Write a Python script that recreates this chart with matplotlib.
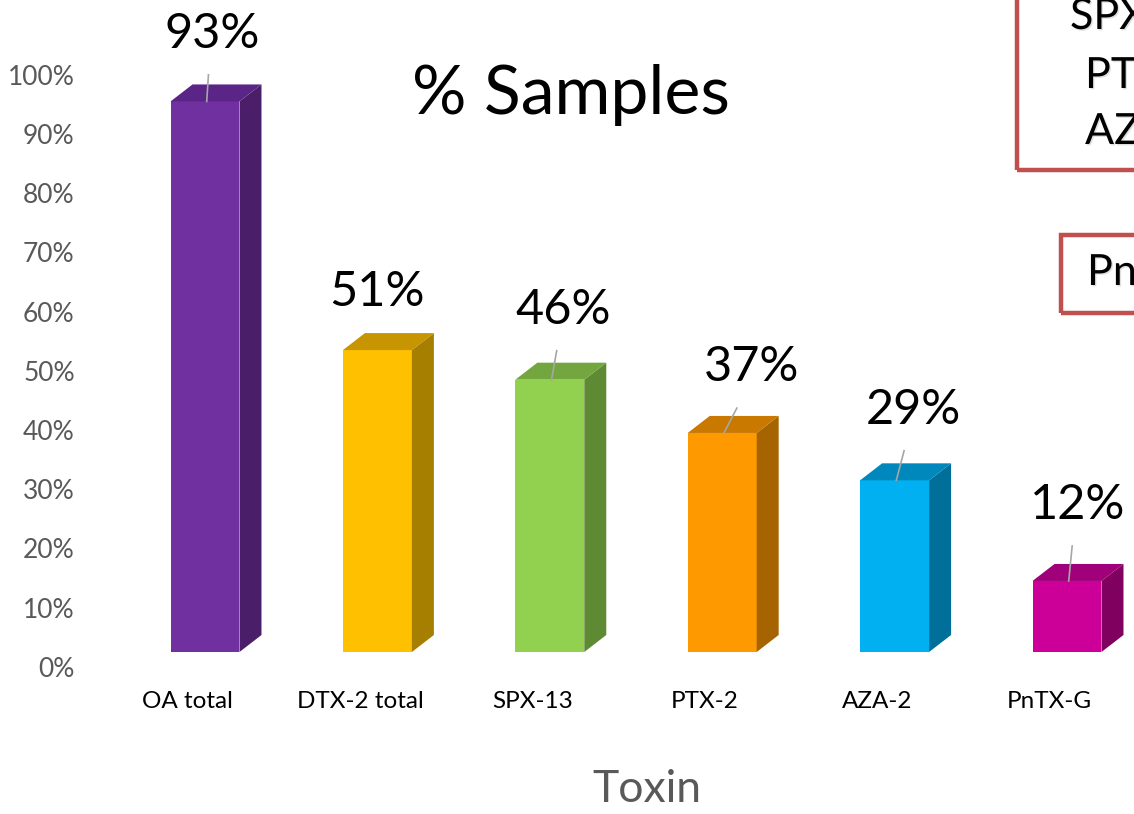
import matplotlib
matplotlib.use("Agg")
import matplotlib.pyplot as plt
import matplotlib.patheffects as pe
from matplotlib.patches import Rectangle, Polygon

plt.rcParams['font.family'] = ['Lato', 'DejaVu Sans']

# data
toxins = ['OA total', 'DTX-2 total', 'SPX-13', 'PTX-2', 'AZA-2', 'PnTX-G']
pct_samples = [93, 51, 46, 37, 29, 12]
y_ticks = [0, 10, 20, 30, 40, 50, 60, 70, 80, 90, 100]
front_colors = ['#7030A0', '#FFC000', '#92D050', '#FF9900', '#00B0F0', '#CC0099']
top_colors = ['#5B2587', '#C79500', '#74A640', '#C97800', '#0088BC', '#A0007A']
side_colors = ['#4A1E69', '#A67F00', '#5E8A34', '#A66400', '#00709A', '#800060']
box_lines = ['SPX-13', 'PTX-2', 'AZA-2']
box2_text = 'PnTX-G'

# where the value labels were placed (offset from bar centre / bar top)
label_dx = [0.04, 0.0, 0.08, 0.17, 0.11, 0.06]
label_dy = [11.4, 9.8, 11.8, 11.1, 11.9, 12.8]
has_leader = [True, False, True, True, True, True]

W, H = 1134, 814
fig = plt.figure(figsize=(W / 100, H / 100), dpi=100)

# pixel layout of the plot area
left_px = 90
x0_px, x_step = 205, 172.4      # first bar centre, spacing
base_px, y_step = 652, 5.92     # bar base, pixels per percent
ax = fig.add_axes([left_px / W, 0, 1 - left_px / W, 1])
ax.set_xlim((left_px - x0_px) / x_step, (W - x0_px) / x_step)
ax.set_ylim((base_px - H) / y_step, base_px / y_step)

bar_w = 0.40
dx, dy = 22 / x_step, 17 / y_step   # depth of the 3D boxes

for i, v in enumerate(pct_samples):
    l, r = i - bar_w / 2, i + bar_w / 2
    ax.add_patch(Rectangle((l, 0), bar_w, v, facecolor=front_colors[i],
                           edgecolor='none', zorder=3))
    ax.add_patch(Polygon([(r, 0), (r + dx, dy), (r + dx, v + dy), (r, v)],
                         closed=True, facecolor=side_colors[i],
                         edgecolor='none', zorder=3))
    ax.add_patch(Polygon([(l, v), (l + dx, v + dy), (r + dx, v + dy), (r, v)],
                         closed=True, facecolor=top_colors[i],
                         edgecolor='none', zorder=3))

    lx, ly = i + label_dx[i], v + label_dy[i]
    ax.text(lx, ly, f'{v}%', ha='center', va='center', fontsize=35,
            color='black', zorder=5)
    if has_leader[i]:
        ax.plot([(lx + i) / 2, i + 0.01], [ly - 6.9, v], color='#A6A6A6',
                lw=1.2, zorder=4)

    ax.text(i - 0.1, (base_px - 702) / y_step, toxins[i], ha='center',
            va='center', fontsize=17.5, color='black')

# y axis labels sit a little below the bar base
ax.set_yticks([t - 2.5 for t in y_ticks])
ax.set_yticklabels([f'{t}%' for t in y_ticks], fontsize=19, color='#595959')
ax.tick_params(axis='y', length=0, pad=11)
ax.set_xticks([])
for s in ax.spines.values():
    s.set_visible(False)

fig.text(571 / W, 1 - 95 / H, '% Samples', ha='center', va='center',
         fontsize=49, color='black')
fig.text(647 / W, 1 - 790 / H, 'Toxin', ha='center', va='center',
         fontsize=32, color='#595959')

# callout boxes on the right
shadow = [pe.withSimplePatchShadow(offset=(1, -1), shadow_rgbFace='#999999', alpha=0.3)]
red = '#C0504D'
fig.add_artist(Rectangle((1017 / W, 1 - 170 / H), 400 / W, 300 / H,
                         transform=fig.transFigure, facecolor='none',
                         edgecolor=red, lw=3.2))
fig.add_artist(Rectangle((1061 / W, 1 - 313 / H), 400 / W, 78 / H,
                         transform=fig.transFigure, facecolor='none',
                         edgecolor=red, lw=3.2))
for txt, (xp, yp) in zip(box_lines, [(1070, 17), (1085, 76), (1085, 132)]):
    fig.text(xp / W, 1 - yp / H, txt, ha='left', va='center', fontsize=31,
             color='black', path_effects=shadow)
fig.text(1087 / W, 1 - 273 / H, box2_text, ha='left', va='center',
         fontsize=31, color='black', path_effects=shadow)

fig.savefig('out.png', dpi=100, facecolor='white')
